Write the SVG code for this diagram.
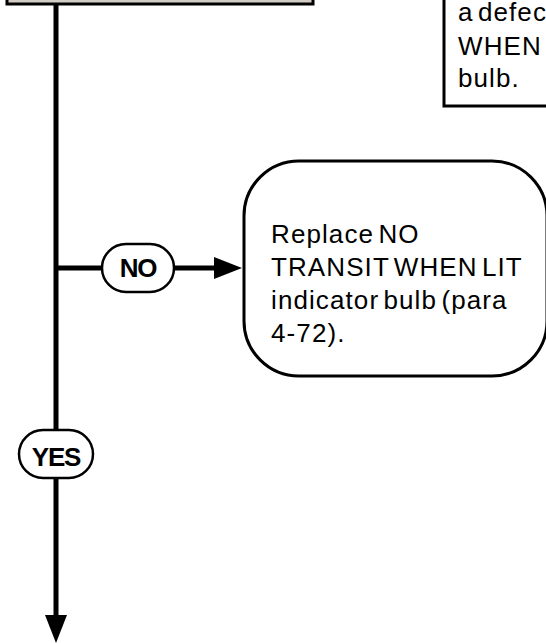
<svg xmlns="http://www.w3.org/2000/svg" width="546" height="644" viewBox="0 0 546 644">
<style>
.conn{stroke:#000;stroke-width:5;fill:none}
.box{fill:#fff;stroke:#000;stroke-width:3}
.pill{fill:#fff;stroke:#000;stroke-width:2.5}
.txt{font-family:"Liberation Sans",Arial,sans-serif;font-size:26px;letter-spacing:1.1px;word-spacing:-4px;fill:#000}
.lbl{font-family:"Liberation Sans",Arial,sans-serif;font-size:26px;font-weight:bold;letter-spacing:-1.2px;text-anchor:middle;fill:#000}
</style>
<defs>
<marker id="ah" markerWidth="28" markerHeight="22" refX="2" refY="11" orient="auto" markerUnits="userSpaceOnUse">
<path d="M0,0 L28,11 L0,22 z" fill="#000"/>
</marker>
</defs>
<g id="connectors">
<line class="conn" x1="56" y1="4" x2="56" y2="430"/>
<line class="conn" x1="56" y1="268" x2="102" y2="268"/>
<line class="conn" x1="174" y1="268" x2="216" y2="268" marker-end="url(#ah)"/>
<line class="conn" x1="56" y1="478" x2="56" y2="617" marker-end="url(#ah)"/>
</g>
<g id="top-box">
<rect x="7" y="-10" width="306" height="14" fill="#d2ccc7" stroke="#000" stroke-width="3"/>
</g>
<g id="note-box">
<rect class="box" x="444" y="-10" width="120" height="116"/>
<text class="txt" x="458" y="21">a defec</text>
<text class="txt" x="458" y="55">WHEN</text>
<text class="txt" x="458" y="87">bulb.</text>
</g>
<g id="no-label">
<rect class="pill" x="102" y="244" width="72" height="48" rx="24"/>
<text class="lbl" x="138" y="277">NO</text>
</g>
<g id="replace-box">
<rect class="box" x="244" y="161" width="303" height="215" rx="55"/>
<text class="txt" x="271" y="243">Replace NO</text>
<text class="txt" x="271" y="276">TRANSIT WHEN LIT</text>
<text class="txt" x="271" y="309">indicator bulb (para</text>
<text class="txt" x="271" y="342">4-72).</text>
</g>
<g id="yes-label">
<rect class="pill" x="19" y="430" width="74" height="48" rx="24"/>
<text class="lbl" x="56" y="466">YES</text>
</g>
</svg>
